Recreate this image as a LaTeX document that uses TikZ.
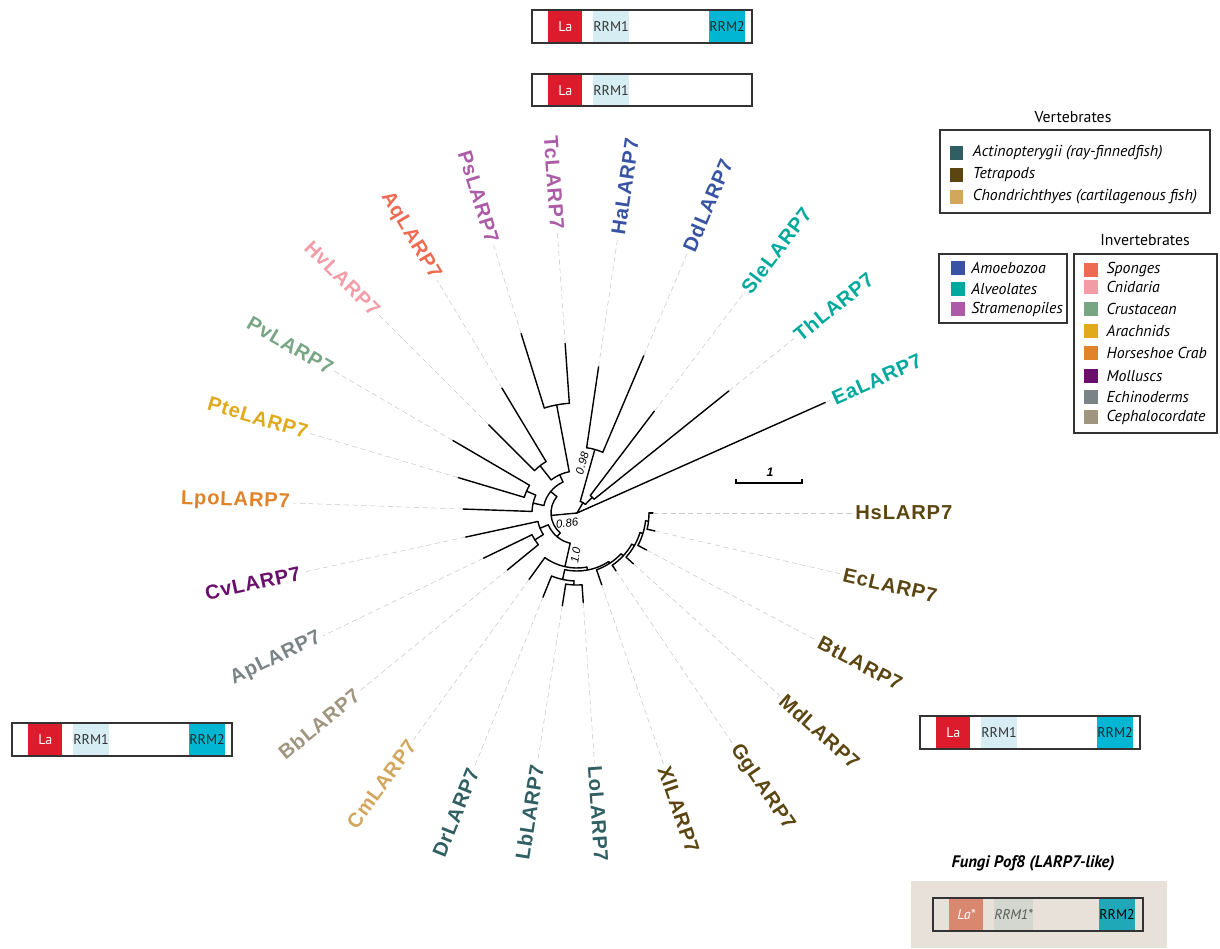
\documentclass[tikz,border=0pt]{standalone}
\usepackage{fontspec}
\setmainfont{Liberation Sans}
\newfontfamily\legendfont{PT Sans}
\newfontfamily\taxonfont[LetterSpace=4]{Liberation Sans}
\usetikzlibrary{positioning}

% grupos
\definecolor{actino}{HTML}{2F5E63}
\definecolor{tetra}{HTML}{5B4612}
\definecolor{chondr}{HTML}{D2A65C}
\definecolor{amoeb}{HTML}{3953A4}
\definecolor{alveo}{HTML}{00A99D}
\definecolor{strame}{HTML}{AC5BA6}
\definecolor{sponge}{HTML}{EF6A52}
\definecolor{cnid}{HTML}{F29CA6}
\definecolor{crust}{HTML}{78A684}
\definecolor{arach}{HTML}{E1AA1B}
\definecolor{horse}{HTML}{E0832A}
\definecolor{mollusc}{HTML}{6A0F6C}
\definecolor{echino}{HTML}{7A8487}
\definecolor{cephalo}{HTML}{A0967F}
% dominios
\definecolor{lared}{HTML}{DC1B2D}
\definecolor{rrmone}{HTML}{D7EDF4}
\definecolor{rrmtwo}{HTML}{00B6D3}
\definecolor{fungbg}{HTML}{E7E1D9}
\definecolor{lastar}{HTML}{DA876F}
\definecolor{rrmonestar}{HTML}{D4D7CF}
\definecolor{rrmtwof}{HTML}{1FA9B8}

\tikzset{
	branch/.style={line width=0.8pt, line cap=round},
	guide/.style={densely dashed, draw=black!22, line width=0.3pt, shorten >=1.5pt},
	taxon/.style={font=\taxonfont\bfseries\fontsize{11.5}{13}\selectfont, inner sep=0pt},
	dom/.style={anchor=north west, minimum width=0.68cm, minimum height=0.66cm, inner sep=0pt, font=\legendfont\fontsize{8}{9}\selectfont},
	barframe/.style={draw=black!80, line width=0.6pt},
	legframe/.style={draw=black!80, line width=0.6pt},
	swatch/.style={minimum size=0.27cm, inner sep=0pt},
	legtext/.style={font=\legendfont\itshape\fontsize{9}{10}\selectfont, inner sep=0pt, anchor=west},
	legtitle/.style={font=\legendfont\fontsize{9}{10}\selectfont, inner sep=0pt},
	boot/.style={font=\itshape\fontsize{6.5}{7}\selectfont, inner sep=0pt},
}

\begin{document}
\begin{tikzpicture}[x=0.02cm, y=-0.02cm]
	\useasboundingbox (0,0) rectangle (1220,948);

	% Arbol circular
	\begin{scope}[shift={(577,513)}, x=0.02cm, y=0.02cm]
		% nodos internos: angulo / radio padre / radio / arco desde / arco hasta
		\foreach \a/\rp/\r/\aa/\ab in {
			353.5/69/72/347/360, 342.75/66/69/332/353.5, 330.38/63/66/318/342.75,
			317.19/60/63/304/330.38, 303.09/58/60/289/317.19,
			267.5/68/72/261/274, 257.75/58/68/248/267.5, 280.42/55/58/257.75/303.09,
			257.31/31/55/234.2/280.42,
			212.55/40/50/205.8/219.3, 202.38/31/40/192.2/212.55, 229.84/26/31/202.38/257.31,
			100.65/42/110/94/107.3, 128/42/60/121/135, 114.33/34/42/100.65/128,
			156.55/45/55/149.7/163.4, 167.28/34/45/156.55/178, 140.8/26/34/114.33/167.28,
			185.32/0/26/140.8/229.84,
			74.3/12/66/67/81.6, 45.8/12/22/38.8/52.8, 60.05/0/12/45.8/74.3}{
			\draw[branch] (\a:\rp) -- (\a:\r) (\aa:\r) arc[start angle=\aa, end angle=\ab, radius=\r];
		}

		% hojas: nombre / angulo / radio padre / punta / etiqueta / color
		\foreach \nm/\a/\pr/\tip/\lr/\col in {
			Hs/360/72/76/278/tetra, Ea/24/0/272/280/alveo, Th/38.8/22/195/281/alveo,
			Sle/52.8/22/128/278/alveo, Dd/67/66/171/285/amoeb, Ha/81.6/66/148/281/amoeb,
			Tc/94/110/170/284/strame, Ps/107.3/110/188/283/strame, Aq/121/60/146/274/sponge,
			Hv/135/60/125/283/cnid, Pv/149.7/55/144/284/crust, Pte/163.4/55/124/281/arach,
			Lpo/178/45/114/287/horse, Cv/192.2/40/114/283/mollusc, Ap/205.8/50/104/285/echino,
			Bb/219.3/50/90/284/cephalo, Cm/234.2/55/82/282/chondr, Dr/248/68/91/276/actino,
			Lb/261/72/94/255/actino, Lo/274/72/90/253/actino, Xl/289/60/76/268/tetra,
			Gg/304/63/70/281/tetra, Md/318/66/76/276/tetra, Bt/332/69/79/274/tetra,
			Ec/347/72/80/273/tetra}{
			\draw[branch] (\a:\pr) -- (\a:\tip) coordinate (\nm-tip);
			\pgfmathtruncatemacro\lft{and(\a>90,\a<270)}
			\ifnum\lft=1
				\pgfmathsetmacro\rot{\a-180}
				\node[taxon, text=\col, rotate=\rot, anchor=east] (\nm) at (\a:\lr) {\nm LARP7};
			\else
				\node[taxon, text=\col, rotate=\a, anchor=west] (\nm) at (\a:\lr) {\nm LARP7};
			\fi
			\draw[guide] (\nm-tip) -- (\nm);
		}

		% soporte
		\node[boot, rotate=74] (bs98) at (84:50) {0.98};
		\node[boot, rotate=8] (bs86) at (225:14) {0.86};
		\node[boot, rotate=80] (bs10) at (268:42) {1.0};
	\end{scope}

	% Escala
		\coordinate (sbl) at (736,483);
		\coordinate (sbr) at (802,483);
		\draw[line width=0.8pt] (sbl) ++(0,-4) -- (sbl) -- (sbr) -- ++(0,-4);
		\node[font=\bfseries\itshape\fontsize{7}{8}\selectfont, inner sep=0pt] (sblab) at (770,472) {1};

	% Dominios LARP7
		\foreach \bar/\bx/\by in {top/532/10, left/12/723, right/920/716}{
			\node[dom, fill=lared, text=white] (\bar-la) at (\bx+16,\by) {La};
			\node[dom, fill=rrmone, text=black!80] (\bar-rrma) at (\bx+61,\by) {RRM1};
			\node[dom, fill=rrmtwo, text=black!85] (\bar-rrmb) at (\bx+177,\by) {RRM2};
			\draw[barframe] (\bx,\by) rectangle ++(220,33);
		}
		\node[dom, fill=lared, text=white] (mid-la) at (548,74) {La};
		\node[dom, fill=rrmone, text=black!80] (mid-rrma) at (593,74) {RRM1};
		\draw[barframe] (532,74) rectangle ++(220,32);

	% Hongos
		\fill[fungbg] (911,881) rectangle (1167,948);
		\node[font=\legendfont\bfseries\itshape\fontsize{9.5}{10}\selectfont, inner sep=0pt] (fungi) at (1033,863) {Fungi Pof8 (LARP7-like)};
		\node[dom, fill=lastar, text=white, font=\legendfont\itshape\fontsize{8}{9}\selectfont] (f-la) at (949,898) {La*};
		\node[dom, fill=rrmonestar, text=black!65, minimum width=0.76cm, font=\legendfont\itshape\fontsize{8}{9}\selectfont] (f-rrma) at (994,898) {RRM1*};
		\node[dom, fill=rrmtwof, text=black] (f-rrmb) at (1099,898) {RRM2};
		\draw[barframe] (933,898) rectangle (1143,931);

	% Leyenda
		% Vertebrados
		\node[legtitle] (vert) at (1073,117) {Vertebrates};
		\draw[legframe] (940,130) rectangle (1210,213);
		\foreach \y/\col/\txt in {153/actino/Actinopterygii (ray-finnedfish), 175/tetra/Tetrapods, 197/chondr/Chondrichthyes (cartilagenous fish)}{
			\node[swatch, fill=\col] (sw-\col) at (956.5,\y) {};
			\node[legtext, right=0.18cm of sw-\col] (lg-\col) {\txt};
		}
		% Protistas
		\draw[legframe] (939,254) rectangle (1067,323);
		\foreach \y/\col/\txt in {268/amoeb/Amoebozoa, 289/alveo/Alveolates, 309/strame/Stramenopiles}{
			\node[swatch, fill=\col] (sw-\col) at (958,\y) {};
			\node[legtext, right=0.12cm of sw-\col] (lg-\col) {\txt};
		}
		% Invertebrados
		\node[legtitle] (invert) at (1145,240) {Invertebrates};
		\draw[legframe] (1074,254) rectangle (1217,433);
		\foreach \y/\col/\txt in {270/sponge/Sponges, 287/cnid/Cnidaria, 309/crust/Crustacean, 331/arach/Arachnids, 353/horse/Horseshoe Crab, 376/mollusc/Molluscs, 397/echino/Echinoderms, 417/cephalo/Cephalocordate}{
			\node[swatch, minimum size=0.28cm, fill=\col] (sw-\col) at (1091,\y) {};
			\node[legtext, right=0.16cm of sw-\col] (lg-\col) {\txt};
		}
\end{tikzpicture}
\end{document}
